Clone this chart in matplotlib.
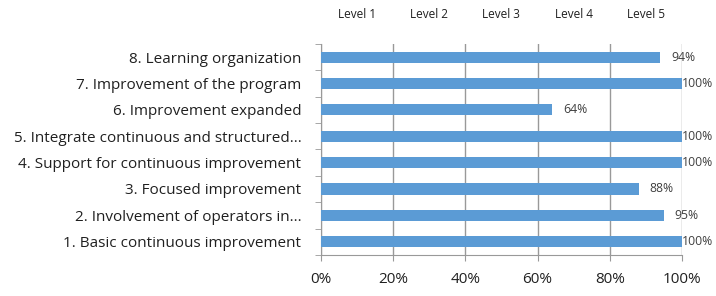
import numpy as np
import matplotlib.pyplot as plt

plt.rcParams['font.family'] = ['Open Sans', 'DejaVu Sans']

# categories from bottom to top
categories = [
    "1. Basic continuous improvement",
    "2. Involvement of operators in...",
    "3. Focused improvement",
    "4. Support for continuous improvement",
    "5. Integrate continuous and structured...",
    "6. Improvement expanded",
    "7. Improvement of the program",
    "8. Learning organization",
]
values = [100, 95, 88, 100, 100, 64, 100, 94]
levels = ["Level 1", "Level 2", "Level 3", "Level 4", "Level 5"]
xticks = [0, 20, 40, 60, 80, 100]

fig = plt.figure(figsize=(7.16, 2.96), dpi=100)
ax = fig.add_axes([0.448, 0.139, 0.5045, 0.712])

y = np.arange(len(categories))
ax.barh(y, values, height=0.42, color="#5B9BD5", zorder=3)

for yi, v in zip(y, values):
    ax.text(min(v + 3, 100), yi, f"{v}%", va="center", ha="left",
            fontsize=8.8, color="#404040", zorder=4)

ax.set_xlim(0, 100)
ax.set_ylim(-0.5, len(categories) - 0.5)
ax.set_xticks(xticks)
ax.set_xticklabels([f"{t}%" for t in xticks], fontsize=11, color="#202020")
ax.set_yticks(y)
ax.set_yticklabels(categories, fontsize=11, color="#202020")

# ticks between categories on the left axis
ax.set_yticks(np.arange(len(categories) + 1) - 0.5, minor=True)
ax.tick_params(axis="y", which="major", length=0, pad=14)
ax.tick_params(axis="y", which="minor", length=4, color="#999999")
ax.tick_params(axis="x", length=4, color="#999999", pad=8)

ax.grid(axis="x", color="#999999", linewidth=1, zorder=0)
for side in ["top", "right"]:
    ax.spines[side].set_visible(False)
for side in ["left", "bottom"]:
    ax.spines[side].set_color("#999999")

# level labels across the top
for i, lab in enumerate(levels):
    ax.text(10 + 20 * i, 1.142, lab, transform=ax.get_xaxis_transform(),
            ha="center", va="center", fontsize=8.5, color="#202020")

fig.savefig("out.png", dpi=100)
